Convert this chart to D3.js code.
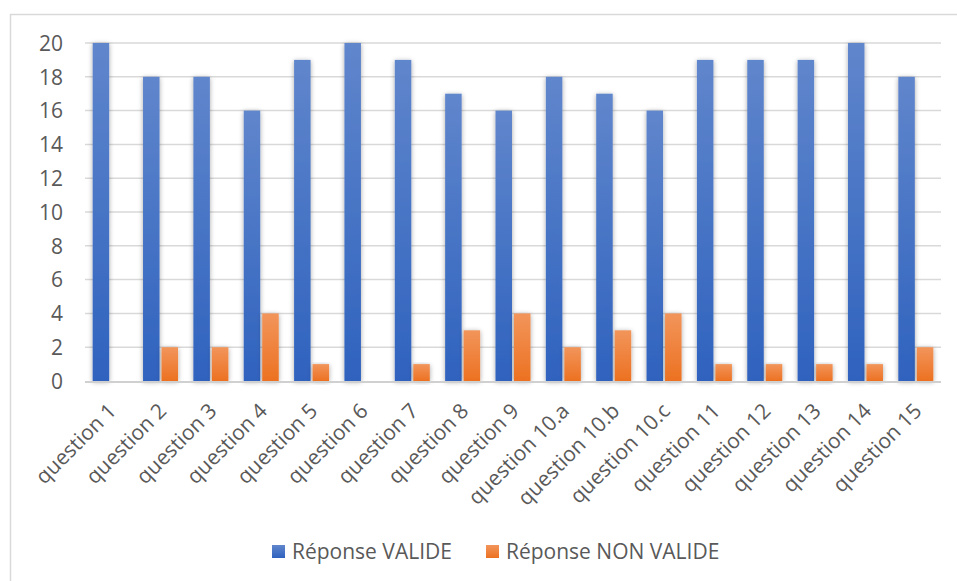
<!DOCTYPE html>
<html><head><meta charset="utf-8">
<script src="https://cdn.jsdelivr.net/npm/d3@7"></script>
<style>body{margin:0;background:#fff}svg{display:block}text{font-family:"Open Sans","Noto Sans",sans-serif;fill:#595959}</style>
</head><body><svg id="c" width="957" height="581"></svg>
<script>
const categories = ["question 1","question 2","question 3","question 4","question 5","question 6","question 7","question 8","question 9","question 10.a","question 10.b","question 10.c","question 11","question 12","question 13","question 14","question 15"];
const valide = [20,18,18,16,19,20,19,17,16,18,17,16,19,19,19,20,18];
const nonValide = [0,2,2,4,1,0,1,3,4,2,3,4,1,1,1,1,2];
const seriesNames = ["Réponse VALIDE","Réponse NON VALIDE"];
const yTicks = [0,2,4,6,8,10,12,14,16,18,20];

const FS = 21;
const svg = d3.select("#c");
const defs = svg.append("defs");
function grad(id, top, bot){
  const g = defs.append("linearGradient").attr("id",id).attr("x1",0).attr("y1",0).attr("x2",0).attr("y2",1);
  g.append("stop").attr("offset","0%").attr("stop-color",top);
  g.append("stop").attr("offset","100%").attr("stop-color",bot);
}
grad("gBlue","#6086cc","#2f62be");
grad("gOrange","#f2955b","#ec7121");
const f = defs.append("filter").attr("id","sh").attr("x","-60%").attr("y","-10%").attr("width","220%").attr("height","130%");
f.append("feDropShadow").attr("dx",0).attr("dy",1).attr("stdDeviation",2.5).attr("flood-color","#000").attr("flood-opacity",0.35);

svg.append("rect").attr("x",10.5).attr("y",14.5).attr("width",960).attr("height",600)
  .attr("fill","none").attr("stroke","#d9d9d9").attr("stroke-width",1.5);

const L=85, R=941, T=43, B=381;
const x = d3.scaleBand().domain(categories).range([L,R]).padding(0);
const y = d3.scaleLinear().domain([0,20]).range([B,T]);

svg.append("g").selectAll("line").data(yTicks.filter(d=>d>0)).join("line")
  .attr("x1",L).attr("x2",R).attr("y1",d=>y(d)).attr("y2",d=>y(d))
  .attr("stroke","#d9d9d9").attr("stroke-width",1.5);

const yAxis = d3.axisLeft(y).tickValues(yTicks).tickSize(0).tickPadding(0);
const ya = svg.append("g").attr("transform",`translate(${L-22},0)`).call(yAxis);
ya.select(".domain").remove();
ya.attr("font-size",FS).attr("font-family",null);
ya.selectAll("text").attr("fill","#595959").attr("dy","0.35em");

const bw = 16.5, gap = 2;
const grp = svg.append("g");
categories.forEach((c,i)=>{
  const cx = x(c)+x.bandwidth()/2;
  grp.append("rect").attr("x",cx-gap/2-bw).attr("width",bw)
    .attr("y",y(valide[i])).attr("height",y(0)-y(valide[i]))
    .attr("fill","url(#gBlue)").attr("filter","url(#sh)");
  if(nonValide[i]>0){
    grp.append("rect").attr("x",cx+gap/2).attr("width",bw)
      .attr("y",y(nonValide[i])).attr("height",y(0)-y(nonValide[i]))
      .attr("fill","url(#gOrange)").attr("filter","url(#sh)");
  }
});

svg.append("line").attr("x1",L).attr("x2",R).attr("y1",B+1).attr("y2",B+1)
  .attr("stroke","#d0d0d0").attr("stroke-width",2);

const xAxis = d3.axisBottom(x).tickSize(0).tickPadding(0);
const xa = svg.append("g").attr("transform",`translate(2,${B+26})`).call(xAxis);
xa.select(".domain").remove();
xa.attr("font-size",FS).attr("font-family",null);
xa.selectAll("text").attr("fill","#595959")
  .attr("text-anchor","end").attr("dy","0.35em").attr("y",0)
  .attr("transform","rotate(-45)");

const leg = svg.append("g");
const items = [{n:seriesNames[0],g:"url(#gBlue)",x:272},{n:seriesNames[1],g:"url(#gOrange)",x:486}];
items.forEach(it=>{
  leg.append("rect").attr("x",it.x).attr("y",545).attr("width",13).attr("height",13).attr("fill",it.g);
  leg.append("text").attr("x",it.x+20).attr("y",551.5).attr("dy","0.35em").attr("font-size",FS).text(it.n);
});
</script></body></html>
